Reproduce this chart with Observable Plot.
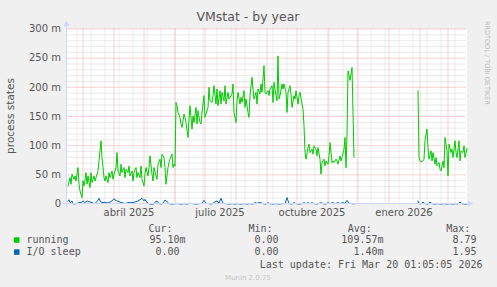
<!DOCTYPE html>
<html><head><meta charset="utf-8">
<script src="https://cdn.jsdelivr.net/npm/d3@7"></script>
<script src="https://cdn.jsdelivr.net/npm/@observablehq/plot@0.6"></script>
<style>
html,body{margin:0;padding:0;background:#f0f0f0;}
#chart{width:497px;height:287px;}
svg{display:block}
</style></head><body><div id="chart"></div>
<script>
// ---- data ----
const title = "VMstat - by year";
const yLabel = "process states";
const startDate = "2025-02-13";
const endDate = "2026-03-20";
const yTicks = [0, 50, 100, 150, 200, 250, 300];           // milli units
const xLabelDates = ["2025-04-16", "2025-07-16", "2025-10-16", "2026-01-16"];
const xLabels = ["abril 2025", "julio 2025", "octubre 2025", "enero 2026"];
const monthStarts = ["2025-03-01","2025-04-01","2025-05-01","2025-06-01","2025-07-01","2025-08-01","2025-09-01","2025-10-01","2025-11-01","2025-12-01","2026-01-01","2026-02-01","2026-03-01"];

// day offsets from startDate, values in milli ("m")
const runningDay = [1,3,4,5,7,8,9,11,12,13,15,16,17,19,20,21,23,24,25,27,28,29,31,32,33,34,35,37,38,39,41,42,43,45,46,47,49,50,51,53,54,55,57,58,59,61,62,63,65,66,67,69,70,71,73,74,75,77,78,79,81,82,83,85,86,87,89,90,91,93,94,95,97,98,99,101,102,103,105,106,107,108,
109,110,111,113,114,115,117,118,119,121,122,123,125,126,127,129,130,131,133,134,135,137,138,139,141,142,143,145,146,147,149,150,151,153,154,155,157,158,159,161,162,163,165,166,167,169,170,171,173,174,175,177,178,179,181,182,183,185,186,187,189,190,191,193,194,195,197,198,199,201,202,203,205,206,207,209,210,
211,212,213,215,216,217,219,220,221,223,224,225,227,228,229,231,232,233,235,236,237,238,239,241,242,243,245,246,247,249,250,251,253,254,255,257,258,259,261,262,263,265,266,267,269,270,271,273,274,275,277,278,279,280,281,283,285,287,
300,
351,352,353,354,356,357,358,360,361,362,364,365,366,368,369,370,372,373,374,376,377,378,380,381,382,384,385,386,388,389,390,392,393,394,396,397,398,400];
const running = [30.9,45.2,33.8,51,42.4,48.1,39.5,62.5,33.8,22.3,10.9,39.5,30.9,53.9,33.8,48.1,28,53.9,36.7,48.1,39.5,45.2,56.7,73.9,91.1,108.3,79.7,45.2,39.5,48.1,36.7,53.9,45.2,56.7,42.4,51,62.5,88.3,56.7,48.1,68.2,53.9,62.5,45.2,59.6,53.9,65.3,48.1,56.7,39.5,53.9,62.5,45.2,53.9,45.2,65.3,42.4,30.9,51,62.5,48.1,62.5,82.5,51,39.5,62.5,48.1,42.4,68.2,76.8,62.5,85.4,79.7,62.5,33.8,62.5,71,76.8,85.4,62.5,68.2,65,
174.2,168.5,157,148.4,137,131.2,154.2,148.4,139.8,114,145.6,168.5,128.4,151.3,139.8,165.5,137,159.9,139.8,137,157,185.7,148.4,154.2,165.5,200,177,174.2,185.7,202.8,171.3,197.1,168.5,194.2,171.3,191.4,177,202.8,171.3,191.4,179.9,182.8,188.5,205.7,157,139.8,177,191.4,171.3,182.8,174.2,194.2,165.5,179.9,157,148.4,185.7,217.2,197.1,179.9,191.4,171.3,197.1,188.5,205.7,191.4,237.2,191.4,188.5,194.2,185.7,197.1,202.8,174.2,208.6,185.7,177,
254,179.9,185.7,205.7,197.1,205.7,191.4,157,191.4,202.8,188.5,165.5,185.7,179.9,194.2,171.3,185.7,191.4,171.3,162.8,134.1,88.2,76.8,96.8,102.6,88.2,94,85.4,99.7,94,82.5,96.8,76.8,51,71,76.8,65.3,73.9,68.2,82.5,105.4,71,73.9,71,76.8,73.9,68.2,82.5,73.9,79.6,94,114,62.4,120,228,212,234,80,
null,
194.2,79.7,73.9,72.2,73.9,76.8,108.3,128.4,96.8,76.8,91.1,73.9,88.2,68.2,79.6,65.3,71,59.6,56.7,73.9,62.4,114,91.1,48.1,102.6,88.2,94,79.6,108.3,88.2,79.6,108.3,73.9,91.1,88.2,99.7,79.6,95.1];

const sleepDay = [1,2,3,5,6,8,11,15,16,18,20,22,25,28,31,32,33,35,38,41,45,47,48,50,53,55,58,61,65,68,71,73,75,77,78,80,83,87,88,90,92,95,97,98,100,102,105,108,
111,114,117,120,123,126,129,132,135,137,139,142,145,147,149,151,152,154,156,159,162,165,168,171,174,177,180,183,186,188,190,192,194,196,199,201,203,206,209,212,215,218,220,222,225,227,229,232,235,237,239,241,243,245,247,250,254,256,259,261,263,266,268,271,273,276,278,280,282,285,287,
300,
351,352,354,356,358,361,363,365,368,371,374,377,380,383,386,389,391,393,395,397,400];
const sleep = [5.2,7.4,2.3,5.2,0.6,0,1.7,3.4,5.2,2.3,5.2,4,2.3,0.6,6.3,9.7,5.2,2.3,2.9,1.7,5.2,9.2,6.9,5.2,3.4,2.3,0.6,2.3,2.3,3.4,5.2,7.4,9.7,5.2,8,2.3,0,0,2.9,5.2,0.6,0,4,6.9,4,0.6,0,0.6,
0.6,0,0.6,0,1.2,0.6,0,0.6,1.2,6.3,1.2,0.6,0,2.3,5.2,4,1.2,9.7,1.2,0.6,0,0.6,0,0.6,0,0.6,0,0.6,0,2.3,1.2,2.3,2.3,0.6,0,2.3,0.6,0,0.6,0,0.6,0.6,11,0.6,0,2.3,0.6,0,0.6,2.3,0.6,2.3,0.6,2.3,0.6,0,2.3,0.6,0,2.3,0.6,2.3,0.6,2.3,0.6,2.3,1.2,6.3,1.2,0.6,0,
null,
5.2,0.6,0,3.4,0.6,0,3.4,0.6,0,0.6,0,0.6,0,0.6,0,0.6,0,3.4,0.6,0,0];

const seriesNames = ["running", "I/O sleep"];
const seriesColors = ["#00CC00", "#0066B3"];
const legendCur = ["95.10m", "0.00"];
const legendMin = ["0.00", "0.00"];
const legendAvg = ["109.57m", "1.40m"];
const legendMax = ["8.79", "1.95"];
const lastUpdate = "Last update: Fri Mar 20 01:05:05 2026";
const footer = "Munin 2.0.75";
const watermark = "RRDTOOL / TOBI OETIKER";

// ---- build ----
const parse = d3.utcParse("%Y-%m-%d");
const t0 = parse(startDate), t1 = parse(endDate);
const toDate = d => d3.utcDay.offset(t0, d);
const runData = runningDay.map((d, i) => ({date: toDate(d), value: running[i]}));
const sleepData = sleepDay.map((d, i) => ({date: toDate(d), value: sleep[i]}));
const labelMap = new Map(xLabelDates.map((d, i) => [+parse(d), xLabels[i]]));
const minorY = d3.range(10, 300, 10).filter(v => v % 50 !== 0);
const majorY = yTicks.filter(v => v > 0);
const minorX = d3.utcDay.range(parse("2025-02-23"), t1, 1).filter((d, i) => i % 14 === 0);
const majorX = monthStarts.map(parse);

const gridMinor = "#d6d6d6", gridMajor = "#f2a6a6", axisCol = "#CFD6F8", fontCol = "#555";

const plot = Plot.plot({
  width: 497, height: 287,
  marginLeft: 66.5, marginRight: 30.5, marginTop: 28.5, marginBottom: 83.5,
  style: {background: "transparent", fontFamily: "DejaVu Sans", fontSize: "10px", color: fontCol, overflow: "visible"},
  x: {type: "utc", domain: [t0, t1], axis: null},
  y: {domain: [0, 300], axis: null},
  marks: [
    Plot.frame({fill: "white", stroke: "none"}),
    Plot.ruleY(minorY, {stroke: gridMinor, strokeDasharray: "1,1"}),
    Plot.ruleX(minorX, {stroke: gridMinor, strokeDasharray: "1,1"}),
    Plot.ruleY(majorY, {stroke: gridMajor, strokeDasharray: "1,1"}),
    Plot.ruleX(majorX, {stroke: gridMajor, strokeDasharray: "1,1"}),
    Plot.axisY(yTicks, {tickSize: 0, tickPadding: 6, label: null, fill: fontCol,
      tickFormat: v => v === 0 ? "0" : `${v} m`}),
    Plot.axisX(xLabelDates.map(parse), {tickSize: 0, tickPadding: 4.5, label: null, fill: fontCol,
      tickFormat: d => labelMap.get(+d)}),
    Plot.line(sleepData, {x: "date", y: "value", stroke: seriesColors[1], strokeWidth: 1}),
    Plot.line(runData, {x: "date", y: "value", stroke: seriesColors[0], strokeWidth: 1})
  ]
});

const svg = d3.select(plot);
const xs = plot.scale("x"), ys = plot.scale("y");
const X0 = xs.apply(t0), X1 = xs.apply(t1), Y0 = ys.apply(0), YT = ys.apply(300);

// axes with arrows
svg.append("line").attr("x1", X0 - 4).attr("x2", X1 + 1.5).attr("y1", Y0).attr("y2", Y0).attr("stroke", axisCol);
svg.append("line").attr("x1", X0).attr("x2", X0).attr("y1", Y0 + 4).attr("y2", YT - 3).attr("stroke", axisCol);
svg.append("path").attr("d", `M${X0 - 3},${YT - 2.5}L${X0 + 3},${YT - 2.5}L${X0},${YT - 8}Z`).attr("fill", axisCol);
svg.append("path").attr("d", `M${X1 + 1.5},${Y0 - 3}L${X1 + 1.5},${Y0 + 3}L${X1 + 7},${Y0}Z`).attr("fill", axisCol);

// title, labels
svg.append("text").attr("x", 248).attr("y", 21).attr("text-anchor", "middle")
  .attr("font-family", "DejaVu Sans").attr("font-size", 12.5).attr("fill", fontCol).text(title);
svg.append("text").attr("transform", `translate(14,${(Y0 + YT) / 2}) rotate(-90)`).attr("text-anchor", "middle")
  .attr("font-family", "DejaVu Sans").attr("font-size", 10.5).attr("fill", fontCol).text(yLabel);
svg.append("text").attr("transform", "translate(485,21) rotate(90)").attr("text-anchor", "start")
  .attr("font-family", "DejaVu Sans").attr("font-size", 6.5).attr("fill", "#bcbcbc").text(watermark);

// legend
const mono = t => t.attr("font-family", "DejaVu Sans Mono").attr("font-size", 10).attr("fill", fontCol)
  .attr("text-anchor", "start").style("white-space", "pre");
const headY = 231.5, rowY = [243, 255];
[["Cur:", 148.5], ["Min:", 248.5], ["Avg:", 347.8], ["Max:", 446.3]].forEach(([t, x]) =>
  mono(svg.append("text")).attr("x", x).attr("y", headY).text(t));
const colEnds = [185.5, 284.5, 383.5, 482.5];
seriesNames.forEach((name, i) => {
  svg.append("rect").attr("x", 14).attr("y", rowY[i] - 5.7).attr("width", 5.5).attr("height", 5.5).attr("fill", seriesColors[i]);
  mono(svg.append("text")).attr("x", 26.5).attr("y", rowY[i]).text(name);
  [legendCur[i], legendMin[i], legendAvg[i], legendMax[i]].forEach((v, j) => {
    const endX = /[a-zA-Z]$/.test(v) ? colEnds[j] : colEnds[j] - 6.02;
    mono(svg.append("text")).attr("x", endX).attr("y", rowY[i]).attr("text-anchor", "end").text(v);
  });
});
mono(svg.append("text")).attr("x", 482.5).attr("y", 267.5).attr("text-anchor", "end").text(lastUpdate);
svg.append("text").attr("x", 248).attr("y", 279.5).attr("text-anchor", "middle")
  .attr("font-family", "DejaVu Sans").attr("font-size", 7).attr("fill", "#c4c4c4").text(footer);

document.getElementById("chart").appendChild(plot);
</script></body></html>
